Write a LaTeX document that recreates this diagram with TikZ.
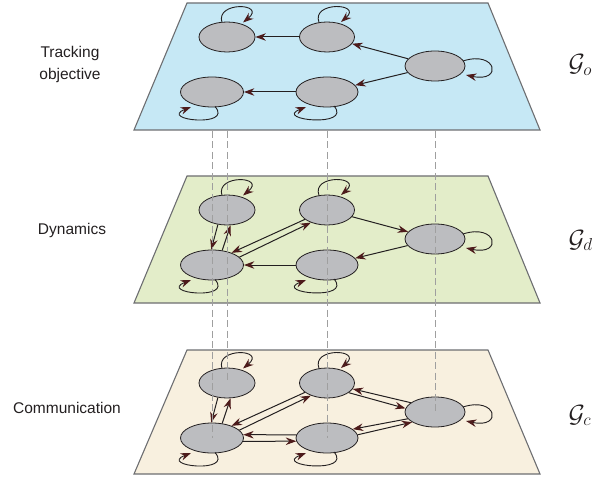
\documentclass[tikz,border=0pt]{standalone}
\usepackage{fontspec}
\setmainfont{Liberation Sans}
\usetikzlibrary{arrows.meta,calc,shapes.geometric}
\definecolor{planeO}{HTML}{C6E8F5}
\definecolor{planeD}{HTML}{E3EDC9}
\definecolor{planeC}{HTML}{F8F0DF}
\definecolor{nodefill}{HTML}{BCBDC0}
\definecolor{edgecol}{HTML}{231F20}
\definecolor{tipcol}{HTML}{4D1B1B}
\definecolor{planeedge}{HTML}{6D6E71}
\begin{document}
\begin{tikzpicture}[x=1pt,y=-1pt,
  plane/.style={draw=planeedge, line width=1.1pt},
  state/.style={ellipse, draw=edgecol, line width=0.8pt, fill=nodefill, minimum height=30pt, inner sep=0pt},
  arr/.style={draw=edgecol, line width=1pt, -{Stealth[length=10.5pt,width=7.5pt,inset=3.5pt,color=tipcol]}},
  looparr/.style={draw=edgecol, line width=0.9pt, -{Stealth[length=10.5pt,width=7.5pt,inset=3.5pt,color=tipcol]}},
  vdash/.style={draw=gray!75, line width=0.7pt, dash pattern=on 7pt off 3.5pt},
  lab/.style={font=\fontsize{15.5}{22}\selectfont, align=center, text=edgecol},
  glab/.style={font=\fontsize{27}{30}\selectfont, anchor=base west, text=edgecol}]
\useasboundingbox (0,0) rectangle (612,478);
% planes
\filldraw[plane, fill=planeO] (187,3) -- (488,3) -- (540,130) -- (134,130) -- cycle;
\filldraw[plane, fill=planeD] (187,176) -- (488,176) -- (540,303) -- (134,303) -- cycle;
\filldraw[plane, fill=planeC] (187,350) -- (488,350) -- (540,474) -- (134,474) -- cycle;
% nodes and self loops
\foreach \p/\dy in {o/0,d/173,c/346}{
  \node[state, minimum width=56pt] (A\p) at (227,37+\dy) {};
  \node[state, minimum width=55pt] (B\p) at (327,37+\dy) {};
  \node[state, minimum width=60pt] (C\p) at (435,66+\dy) {};
  \node[state, minimum width=63pt] (D\p) at (212,92+\dy) {};
  \node[state, minimum width=62pt] (E\p) at (327,92+\dy) {};
  \draw[looparr] ([shift={(-5,-14.5)}]A\p.center) .. controls ([shift={(-12,-36)}]A\p.center) and ([shift={(40,-34)}]A\p.center) .. ([shift={(16,-14.5)}]A\p.center);
  \draw[looparr] ([shift={(-8,-14.5)}]B\p.center) .. controls ([shift={(-16,-36)}]B\p.center) and ([shift={(36,-34)}]B\p.center) .. ([shift={(14,-15)}]B\p.center);
  \draw[looparr] ([shift={(28,-5)}]C\p.center) .. controls ([shift={(62,-16)}]C\p.center) and ([shift={(68,17)}]C\p.center) .. ([shift={(31,9)}]C\p.center);
  \draw[looparr] ([shift={(3,14.5)}]D\p.center) .. controls ([shift={(22,36)}]D\p.center) and ([shift={(-54,28)}]D\p.center) .. ([shift={(-21,15)}]D\p.center);
  \draw[looparr] ([shift={(7,14)}]E\p.center) .. controls ([shift={(26,36)}]E\p.center) and ([shift={(-54,28)}]E\p.center) .. ([shift={(-21,15)}]E\p.center);
}
% tracking objective edges
\draw[arr] (Bo) -- (Ao);
\draw[arr] (Co) -- (Bo);
\draw[arr] (Co) -- (Eo);
\draw[arr] (Eo) -- (Do);
% dynamics edges
\draw[arr] (Ad.238) -- (Dd.93);
\draw[arr] (Dd.55) -- (Ad.283);
\draw[arr] (Bd.203) -- (Dd.32);
\draw[arr] (Dd.16) -- (Bd.218);
\draw[arr] (Bd) -- (Cd);
\draw[arr] (Cd) -- (Ed);
\draw[arr] (Ed) -- (Dd);
% communication edges
\draw[arr] (Ac.238) -- (Dc.93);
\draw[arr] (Dc.55) -- (Ac.283);
\draw[arr] (Bc.203) -- (Dc.32);
\draw[arr] (Dc.16) -- (Bc.218);
\draw[arr] (Ec.174) -- (Dc.6);
\draw[arr] (Dc.354) -- (Ec.186);
\draw[arr] (Cc.159) -- (Bc.347);
\draw[arr] (Bc.336) -- (Cc.173);
\draw[arr] (Cc.194) -- (Ec.19);
\draw[arr] (Ec.6) -- (Cc.204);
% vertical dashed guides
\coordinate (edgeO) at (0,131);
\draw[vdash] (Do |- edgeO) -- (Dc.center);
\draw[vdash] (Ao |- edgeO) -- (Ac.center);
\draw[vdash] (Bo |- edgeO) -- (Ec.center);
\draw[vdash] (Co |- edgeO) -- (Cc.center);
% labels
\node[lab] (ltrack) at (70,64) {Tracking\\objective};
\node[lab] (ldyn) at (72,230) {Dynamics};
\node[lab] (lcom) at (67,408) {Communication};
\node[glab] (go) at (565,72) {$\mathcal{G}_o$};
\node[glab] (gd) at (565,247) {$\mathcal{G}_d$};
\node[glab] (gc) at (565,422) {$\mathcal{G}_c$};
\end{tikzpicture}
\end{document}
